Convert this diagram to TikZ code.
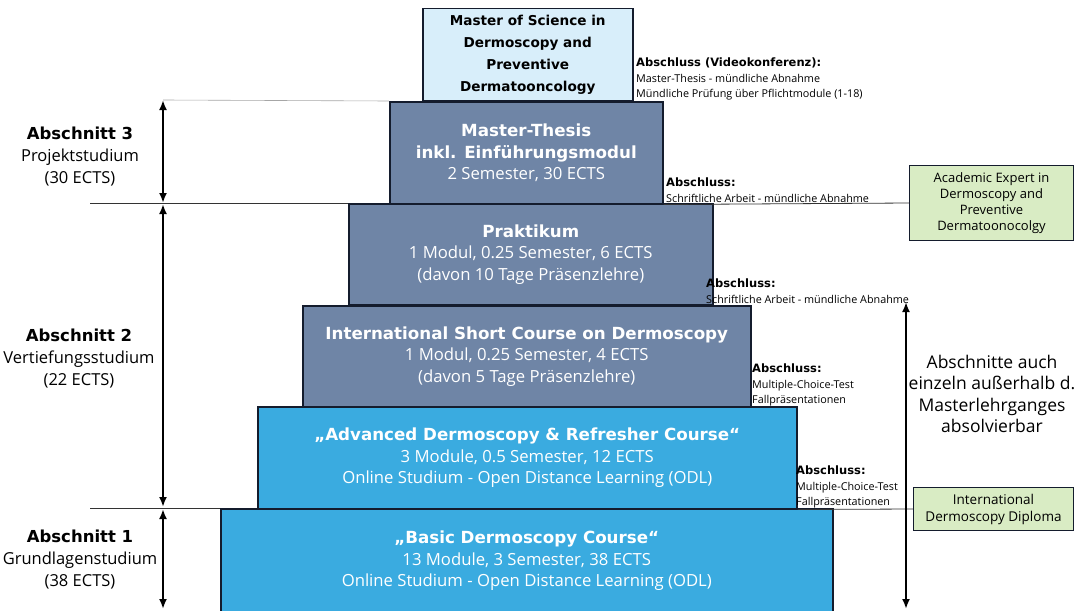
\documentclass[tikz,border=0pt]{standalone}
\usepackage{fontspec}
\setmainfont{Open Sans}
\newfontfamily\hv{DejaVu Sans}
\newcommand\hb[1]{{\hv\bfseries #1}}
\usetikzlibrary{arrows.meta}
\definecolor{slate}{RGB}{111,133,166}
\definecolor{brightblue}{RGB}{58,171,224}
\definecolor{paleblue}{RGB}{216,238,250}
\definecolor{palegreen}{RGB}{217,236,196}
\definecolor{edge}{RGB}{20,28,45}
\tikzset{
  tier/.style={draw=edge, line width=1.5pt, anchor=north west, inner sep=0pt, text=white, align=center, font=\fontsize{16.7}{21.5}\selectfont},
  slatebox/.style={tier, fill=slate},
  bluebox/.style={tier, fill=brightblue},
  award/.style={draw=edge, line width=1pt, fill=palegreen, align=center, inner sep=2pt},
  note/.style={anchor=north west, align=left, inner sep=0pt, font=\fontsize{10.8}{15.5}\selectfont},
  sect/.style={align=center, inner sep=0pt, font=\fontsize{16.5}{22}\selectfont},
  rule/.style={line width=0.8pt, draw=black!80},
  span/.style={line width=2.2pt, {Latex[length=10pt,width=8pt]}-{Latex[length=10pt,width=8pt]}}
}
\newcommand\nh[1]{\hb{\fontsize{11.5}{15.5}\selectfont #1}}
\begin{document}
\begin{tikzpicture}[x=1pt,y=-1pt]
\useasboundingbox (0,0) rectangle (1075,610);
% tiers
\node[draw=edge, line width=1.5pt, fill=paleblue, anchor=north west, minimum width=210pt, minimum height=92pt, inner sep=0pt, align=center, font=\hv\bfseries\fontsize{13.6}{22}\selectfont] (mos) at (422,8) {Master of Science in\\Dermoscopy and\\Preventive\\Dermatooncology};
\node[slatebox, minimum width=273pt, minimum height=102pt] (thesis) at (389,101) {\hb{Master-Thesis}\\\hb{inkl. Einführungsmodul}\\2 Semester, 30 ECTS};
\node[slatebox, minimum width=364pt, minimum height=101pt] (prakt) at (348,203) {\hb{Praktikum}\\1 Modul, 0.25 Semester, 6 ECTS\\(davon 10 Tage Präsenzlehre)};
\node[slatebox, minimum width=448pt, minimum height=101pt] (isc) at (302,305) {\hb{International Short Course on Dermoscopy}\\1 Modul, 0.25 Semester, 4 ECTS\\(davon 5 Tage Präsenzlehre)};
\node[bluebox, minimum width=539pt, minimum height=102pt] (adv) at (257,406) {\hb{„Advanced Dermoscopy \& Refresher Course“}\\3 Module, 0.5 Semester, 12 ECTS\\Online Studium - Open Distance Learning (ODL)};
\node[bluebox, minimum width=612pt, minimum height=104pt] (basic) at (220,508) {\hb{„Basic Dermoscopy Course“}\\13 Module, 3 Semester, 38 ECTS\\Online Studium - Open Distance Learning (ODL)};
% awards
\node[award, anchor=north west, minimum width=164pt, minimum height=75pt, font=\fontsize{13}{16}\selectfont] (expert) at (909,165) {Academic Expert in\\Dermoscopy and\\Preventive\\Dermatoonocolgy};
\node[award, anchor=north west, minimum width=160pt, minimum height=43pt, font=\fontsize{13.5}{17}\selectfont] (diploma) at (913,487) {International\\Dermoscopy Diploma};
% notes
\node[note] (n1) at (636,58) {\nh{Abschluss (Videokonferenz):}\\Master-Thesis - mündliche Abnahme\\Mündliche Prüfung über Pflichtmodule (1-18)};
\node[note] (n2) at (666,178) {\nh{Abschluss:}\\Schriftliche Arbeit - mündliche Abnahme};
\node[note] (n3) at (706,279) {\nh{Abschluss:}\\Schriftliche Arbeit - mündliche Abnahme};
\node[note] (n4) at (752,364) {\nh{Abschluss:}\\Multiple-Choice-Test\\Fallpräsentationen};
\node[note] (n5) at (796,466) {\nh{Abschluss:}\\Multiple-Choice-Test\\Fallpräsentationen};
% section labels
\node[sect] (s3) at (80,157) {\hb{Abschnitt 3}\\Projektstudium\\(30 ECTS)};
\node[sect] (s2) at (79,359) {\hb{Abschnitt 2}\\Vertiefungsstudium\\(22 ECTS)};
\node[sect] (s1) at (80,560) {\hb{Abschnitt 1}\\Grundlagenstudium\\(38 ECTS)};
\node[align=center, inner sep=0pt, font=\fontsize{17.5}{21.5}\selectfont] (side) at (992,394) {Abschnitte auch\\einzeln außerhalb d.\\Masterlehrganges\\absolvierbar};
% guide lines
\coordinate (t0) at (163,100);
\coordinate (l3) at (90,203);
\coordinate (l1) at (90,508);
\draw[line width=0.6pt, draw=black!35] (t0) -- (thesis.north west);
\draw[rule] (l3) -- (prakt.north west);
\draw[rule] (thesis.south east) -- (expert.west);
\draw[rule] (l1) -- (basic.north west);
\draw[rule] (adv.south east) -- (diploma.west);
% span arrows
\coordinate (a3t) at (163,100);
\coordinate (a3b) at (163,203);
\coordinate (a2t) at (163,204);
\coordinate (a2b) at (163,507);
\coordinate (a1t) at (163,509);
\coordinate (a1b) at (163,609);
\coordinate (rt) at (906,302);
\coordinate (rb) at (906,609);
\draw[span] (a3t) -- (a3b);
\draw[span] (a2t) -- (a2b);
\draw[span] (a1t) -- (a1b);
\draw[span] (rt) -- (rb);
\end{tikzpicture}
\end{document}
